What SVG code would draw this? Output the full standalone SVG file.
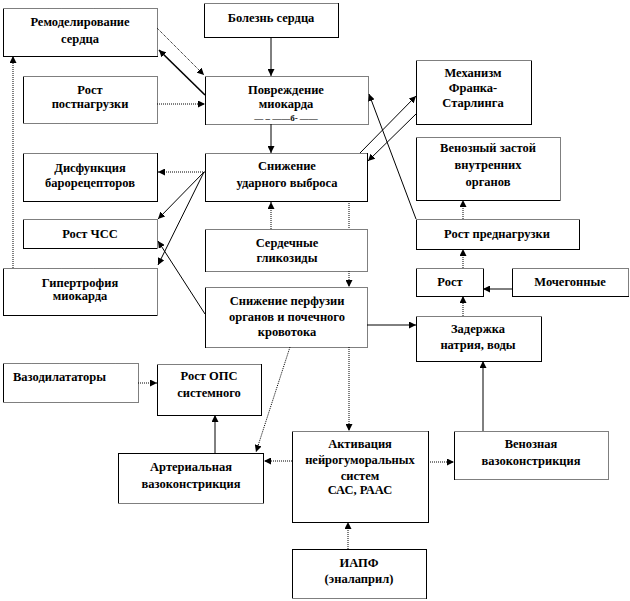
<svg xmlns="http://www.w3.org/2000/svg" width="630" height="601" viewBox="0 0 630 601">
<style>
.b{fill:#fff;stroke:#000;stroke-width:1}
.d{fill:none;stroke:#fff;stroke-width:1;stroke-dasharray:1 1}
text{font-family:"Liberation Serif","Times New Roman",serif;font-weight:bold;font-size:12.5px;fill:#000;text-anchor:middle}
.s{fill:none;stroke:#000;stroke-width:1;marker-end:url(#a)}
.t{fill:none;stroke:#000;stroke-width:1;stroke-dasharray:1 1;marker-end:url(#a)}
.n{fill:none;stroke:#000;stroke-width:1;stroke-dasharray:1 1}
</style>
<defs>
<marker id="a" viewBox="0 0 10 10" refX="10" refY="5" markerWidth="7" markerHeight="7" markerUnits="userSpaceOnUse" orient="auto">
<path d="M0,0 L10,5 L0,10 z" fill="#000"/>
</marker>
</defs>
<rect width="630" height="601" fill="#fff"/>
<g id="n-remod"><rect class="b" x="3.5" y="8.5" width="154" height="48"/><path class="d" d="M3.5 8.5H157.5V56.5"/><text x="80" y="26">Ремоделирование</text><text x="80" y="43">сердца</text></g>
<g id="n-bolezn"><rect class="b" x="204.5" y="3.5" width="134" height="34"/><path class="d" d="M204.5 3.5H338.5"/><text x="271" y="22">Болезнь  сердца</text></g>
<g id="n-povr"><rect class="b" x="205.5" y="76.5" width="163" height="48"/><path class="d" d="M205.5 76.5H368.5V124.5H205.5"/><text x="286" y="94">Повреждение</text><text x="286" y="108">миокарда</text><text x="286" y="121" style="font-size:9px">— –  ——б- ——</text></g>
<g id="n-postn"><rect class="b" x="23.5" y="76.5" width="134" height="47"/><path class="d" d="M23.5 76.5H157.5V123.5H23.5"/><text x="90" y="94">Рост</text><text x="90" y="108">постнагрузки</text></g>
<g id="n-frank"><rect class="b" x="416.5" y="60.5" width="115" height="64"/><path class="d" d="M416.5 60.5H531.5"/><text x="473" y="77">Механизм</text><text x="473" y="92">Франка-</text><text x="473" y="107">Старлинга</text></g>
<g id="n-zastoi"><rect class="b" x="416.5" y="137.5" width="144" height="63"/><path class="d" d="M416.5 137.5H560.5V200.5"/><text x="488" y="152">Венозный застой</text><text x="488" y="169">внутренних</text><text x="488" y="186">органов</text></g>
<g id="n-predn"><rect class="b" x="416.5" y="219.5" width="163" height="30"/><path class="d" d="M416.5 219.5H579.5"/><text x="497" y="238">Рост преднагрузки</text></g>
<g id="n-rost"><rect class="b" x="416.5" y="268.5" width="67" height="28"/><path class="d" d="M416.5 268.5H483.5"/><text x="450" y="286">Рост</text></g>
<g id="n-moch"><rect class="b" x="512.5" y="268.5" width="116" height="28"/><path class="d" d="M512.5 268.5H628.5V296.5"/><text x="570" y="286">Мочегонные</text></g>
<g id="n-zader"><rect class="b" x="416.5" y="316.5" width="125" height="45"/><path class="d" d="M416.5 316.5H541.5"/><text x="478" y="333">Задержка</text><text x="478" y="349">натрия, воды</text></g>
<g id="n-disf"><rect class="b" x="23.5" y="153.5" width="134" height="48"/><path class="d" d="M23.5 153.5H157.5"/><text x="90" y="172">Дисфункция</text><text x="90" y="187">барорецепторов</text></g>
<g id="n-chss"><rect class="b" x="23.5" y="219.5" width="134" height="29"/><path class="d" d="M23.5 219.5H157.5V248.5"/><text x="90" y="238">Рост ЧСС</text></g>
<g id="n-gipert"><rect class="b" x="3.5" y="268.5" width="154" height="47"/><path class="d" d="M3.5 268.5H157.5V315.5"/><text x="80" y="287">Гипертрофия</text><text x="80" y="300">миокарда</text></g>
<g id="n-udar"><rect class="b" x="205.5" y="153.5" width="162" height="48"/><path class="d" d="M205.5 153.5H367.5"/><text x="287" y="170">Снижение</text><text x="287" y="187">ударного выброса</text></g>
<g id="n-glik"><rect class="b" x="205.5" y="229.5" width="162" height="42"/><path class="d" d="M205.5 229.5H367.5V271.5H205.5"/><text x="287" y="247">Сердечные</text><text x="287" y="262">гликозиды</text></g>
<g id="n-perf"><rect class="b" x="205.5" y="287.5" width="162" height="60"/><path class="d" d="M205.5 287.5H367.5V347.5H205.5"/><text x="287" y="305">Снижение  перфузии</text><text x="287" y="321">органов и почечного</text><text x="287" y="336">кровотока</text></g>
<g id="n-vazodil"><rect class="b" x="3.5" y="363.5" width="135" height="39"/><path class="d" d="M3.5 363.5H138.5V402.5H3.5"/><text x="13" y="381" style="text-anchor:start">Вазодилататоры</text></g>
<g id="n-ops"><rect class="b" x="157.5" y="364.5" width="104" height="51"/><path class="d" d="M157.5 364.5H261.5"/><text x="209" y="380">Рост ОПС</text><text x="209" y="397">системного</text></g>
<g id="n-art"><rect class="b" x="118.5" y="453.5" width="145" height="50"/><path class="d" d="M118.5 503.5H263.5"/><text x="191" y="471">Артериальная</text><text x="191" y="488">вазоконстрикция</text></g>
<g id="n-activ"><rect class="b" x="292.5" y="431.5" width="136" height="91"/><path class="d" d="M292.5 431.5H428.5"/><text x="360" y="448">Активация</text><text x="360" y="464">нейрогуморальных</text><text x="360" y="480">систем</text><text x="360" y="494">САС, РААС</text></g>
<g id="n-ven"><rect class="b" x="454.5" y="431.5" width="154" height="48"/><path class="d" d="M454.5 431.5H608.5V479.5H454.5"/><text x="531" y="448">Венозная</text><text x="531" y="465">вазоконстрикция</text></g>
<g id="n-iapf"><rect class="b" x="292.5" y="549.5" width="134" height="49"/><path class="d" d="M292.5 598.5H426.5"/><text x="359" y="567">ИАПФ</text><text x="359" y="583">(эналаприл)</text></g>
<g id="connectors">
<path class="s" d="M271 37V76"/>
<path class="t" d="M157 28L204 75"/>
<path class="s" d="M205 95L159 50" style="stroke-width:1.6"/>
<path class="t" d="M157 104H205"/>
<path class="s" d="M271 124V153"/>
<path class="s" d="M360 153L416 96"/>
<path class="s" d="M416 114L368 161"/>
<path class="s" d="M416 219L369 94"/>
<path class="t" d="M205 172H158"/>
<path class="s" d="M204 172L158 219"/>
<path class="s" d="M204 172L158 265"/>
<path class="s" d="M205 314L158 241"/>
<path class="t" d="M271 229V202"/>
<path class="n" d="M349 201V229"/>
<path class="t" d="M349 271V287"/>
<path class="s" d="M367 325H416"/>
<path class="t" d="M349 347V431"/>
<path class="t" d="M290 347L256 452"/>
<path class="t" d="M292 461H264"/>
<path class="t" d="M428 462H454"/>
<path class="s" d="M483 431V361"/>
<path class="s" d="M215 453V415"/>
<path class="t" d="M138 383H157"/>
<path class="t" d="M348 549V522"/>
<path class="s" d="M512 289H483"/>
<path class="t" d="M463 316V296"/>
<path class="t" d="M463 268V249"/>
<path class="t" d="M463 219V200"/>
<path class="t" d="M13 268V56"/>
</g>
</svg>
